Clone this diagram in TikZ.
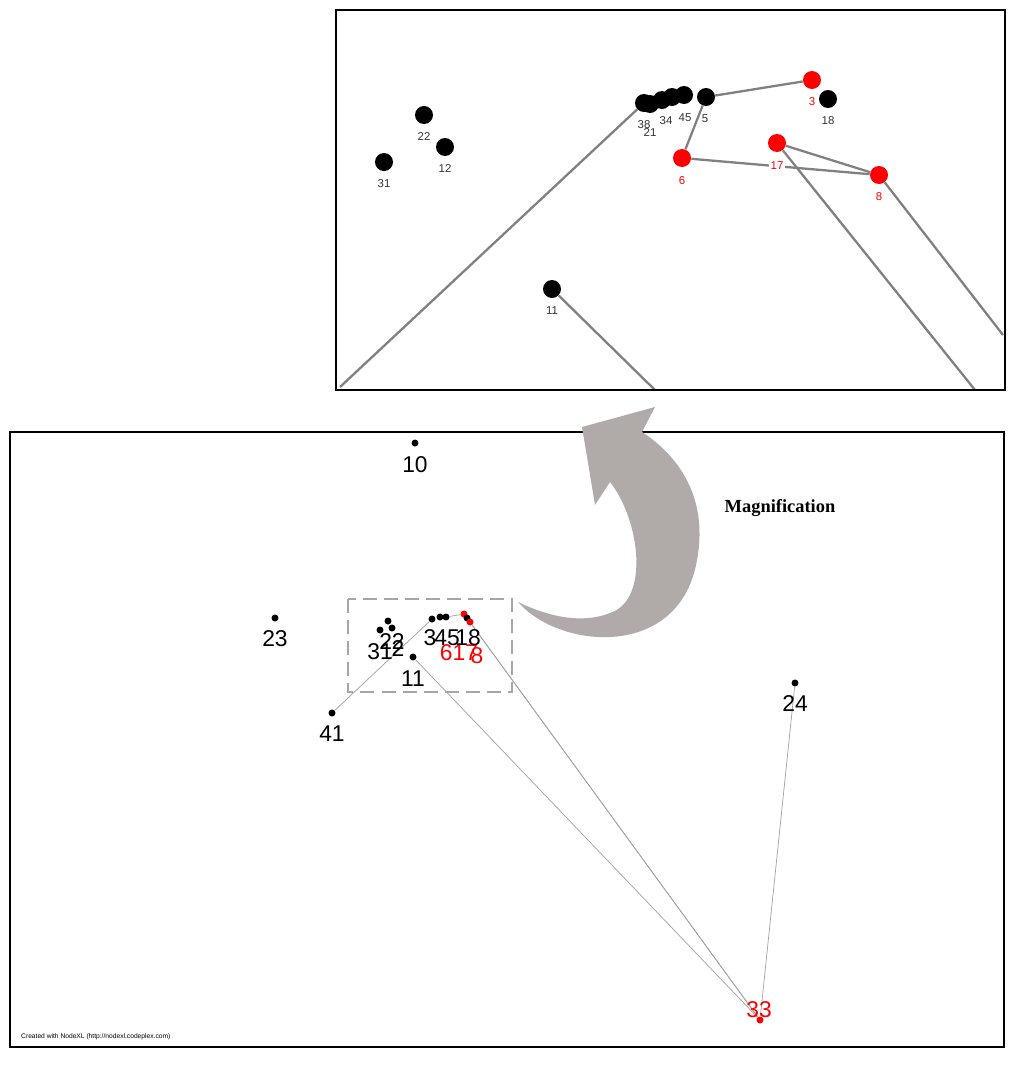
\documentclass[tikz,border=0pt]{standalone}
\usepackage{fontspec}
\setmainfont{Liberation Serif}
\newfontfamily\labelfont{Liberation Sans}
\usetikzlibrary{positioning, backgrounds}
\definecolor{edgegray}{HTML}{808080}
\definecolor{thingray}{HTML}{A0A0A0}
\definecolor{arrowgray}{HTML}{B0ABA8}
\definecolor{hot}{HTML}{FF0000}

\begin{document}
\begin{tikzpicture}[x=0.02cm, y=-0.02cm,
  big/.style={circle, fill=black, inner sep=0pt, minimum size=0.36cm},
  bigred/.style={big, fill=hot},
  small/.style={circle, fill=black, inner sep=0pt, minimum size=0.14cm},
  smallred/.style={small, fill=hot},
  toplab/.style={font=\labelfont\fontsize{6.5}{7}\selectfont, text=black!80},
  toplabred/.style={toplab, text=hot},
  botlab/.style={font=\labelfont\fontsize{13}{14}\selectfont},
  botlabred/.style={botlab, text=hot},
  zoomedge/.style={draw=edgegray, line width=1.3pt},
  thinedge/.style={draw=thingray, line width=0.4pt},
]
  \useasboundingbox (0,0) rectangle (1024,1069);

  % Magnified panel
  \node[big] (t22) at (424,115) {};
  \node[big] (t12) at (445,147) {};
  \node[big] (t31) at (384,162) {};
  \node[big] (t11) at (552,289) {};
  \node[big] (t38) at (644,103) {};
  \node[big] (t21) at (650,104) {};
  \node[big] (t34) at (662,100) {};
  \node[big] (t40) at (672,97) {};
  \node[big] (t45) at (684,95) {};
  \node[big] (t5) at (706,97) {};
  \node[bigred] (t3) at (812,80) {};
  \node[big] (t18) at (828,99) {};
  \node[bigred] (t6) at (682,158) {};
  \node[bigred] (t17) at (777,143) {};
  \node[bigred] (t8) at (879,175) {};
  \coordinate (o38) at (340,387);
  \coordinate (o11) at (655,390);
  \coordinate (o17) at (975,390);
  \coordinate (o8) at (1003,335);

  \begin{scope}[on background layer]
    \draw[zoomedge] (t38) -- (o38);
    \draw[zoomedge] (t11) -- (o11);
    \draw[zoomedge] (t17) -- (o17);
    \draw[zoomedge] (t8) -- (o8);
    \draw[zoomedge] (t5) -- (t3);
    \draw[zoomedge] (t5) -- (t6);
    \draw[zoomedge] (t6) -- (t8);
    \draw[zoomedge] (t17) -- (t8);
  \end{scope}

  \node[toplab] at (424,137) {22};
  \node[toplab] at (445,169) {12};
  \node[toplab] at (384,184) {31};
  \node[toplab] at (552,311) {11};
  \node[toplab] at (644,125) {38};
  \node[toplab] at (650,133) {21};
  \node[toplab] at (666,121) {34};
  \node[toplab] at (685,118) {45};
  \node[toplab] at (705,119) {5};
  \node[toplabred] at (812,102) {3};
  \node[toplab] at (828,121) {18};
  \node[toplabred] at (682,181) {6};
  \node[toplabred, fill=white, inner sep=1pt] at (777,166) {17};
  \node[toplabred] at (879,197) {8};
  \draw[line width=1.5pt] (336,10) rectangle (1005,390);

  % Whole network
  \node[small] (b10) at (415,443) {};
  \node[small] (b23) at (275,618) {};
  \node[small] (b41) at (332,713) {};
  \node[small] (b24) at (795,683) {};
  \node[smallred] (b33) at (760,1020) {};
  \node[small] (b11) at (413,657) {};
  \node[small] (b31) at (380,630) {};
  \node[small] (b22) at (388,621) {};
  \node[small] (b12) at (392,628) {};
  \node[small] (b38) at (432,619) {};
  \node[small] (b45) at (440,617) {};
  \node[small] (b5) at (446,617) {};
  \node[smallred] (b3) at (464,614) {};
  \node[small] (b18) at (467,618) {};
  \node[smallred] (b8) at (470,622) {};

  \begin{scope}[on background layer]
    \draw[thinedge] (b41) -- (b38);
    \draw[thinedge] (b11) -- (b33);
    \draw[thinedge] (b18) -- (b33);
    \draw[thinedge] (b8) -- (b33);
    \draw[thinedge] (b5) -- (b3);
    \draw[thinedge] (b24) -- (b33);
  \end{scope}

  \node[botlab] at (415,465) {10};
  \node[botlab] at (275,639) {23};
  \node[botlab] at (332,734) {41};
  \node[botlab] at (795,704) {24};
  \node[botlab] at (413,679) {11};
  \node[botlabred] at (459,653) {617};
  \node[botlabred] at (477,656) {8};
  \node[botlab] at (380,652) {31};
  \node[botlab] at (392,642) {22};
  \node[botlab] at (398,649) {2};
  \node[botlab] at (430,638) {3};
  \node[botlab] at (447,638) {45};
  \node[botlab] at (468,638) {18};
  \node[botlabred] at (759,1010) {33};
  \draw[draw=black!35, line width=1.6pt, dash pattern=on 8pt off 4pt]
    (348,599) rectangle (512,692);
  \node[font=\labelfont\fontsize{3.8}{4}\selectfont, anchor=west]
    at (15,1037) {Created with NodeXL (http://nodexl.codeplex.com)};
  \draw[line width=1.5pt] (10,432) rectangle (1004,1047);

  % Magnification arrow
  \fill[arrowgray] (518,602) .. controls (560,650) and (680,660) .. (697,560)
    .. controls (710,490) and (670,450) .. (642,432) -- (655,407) -- (582,427)
    -- (595,505) -- (610,482) .. controls (640,520) and (650,600) .. (610,613)
    .. controls (580,625) and (545,615) .. (518,602) -- cycle;
  \node[font=\bfseries\fontsize{10.5}{12}\selectfont] (mag) at (780,508) {Magnification};
\end{tikzpicture}
\end{document}
